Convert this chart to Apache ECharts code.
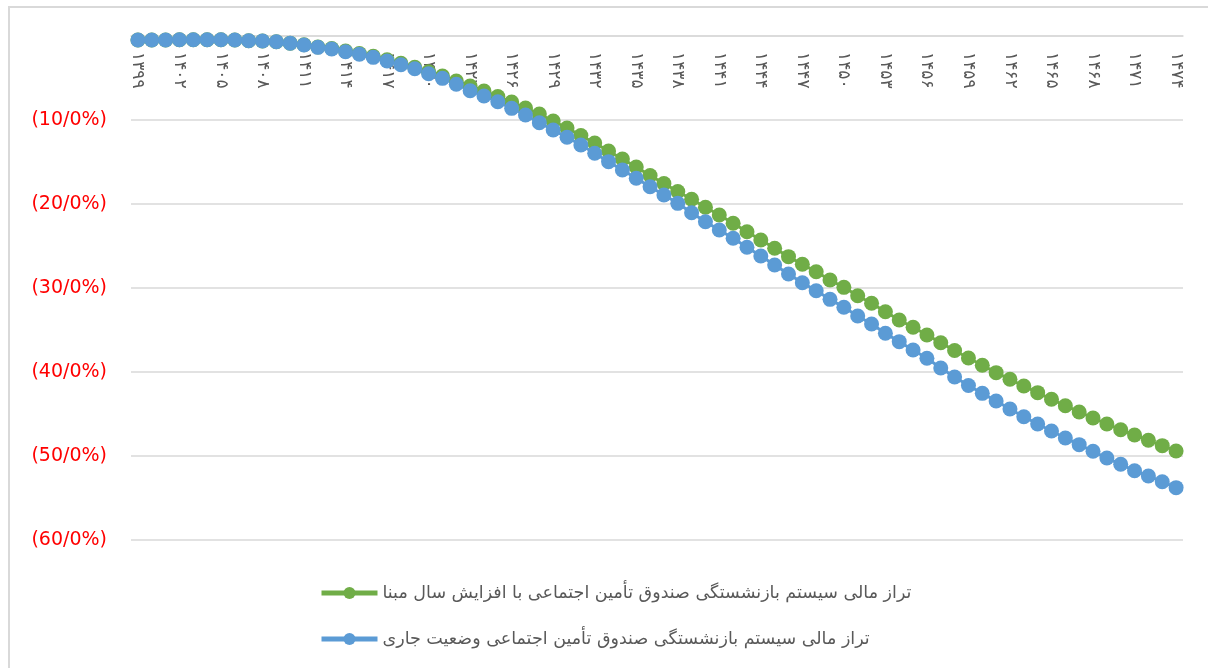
<!DOCTYPE html>
<html>
<head>
<meta charset="utf-8">
<script src="https://cdn.jsdelivr.net/npm/echarts@6/dist/echarts.min.js"></script>
<style>
  html, body { margin: 0; padding: 0; background: #fff; }
  #chart { width: 1208px; height: 668px; }
</style>
</head>
<body>
<div id="chart"></div>
<script>
// years 1399..1474, shown with Persian digits
var firstYear = 1399;
var lastYear = 1474;
var persianDigits = ['۰','۱','۲','۳','۴','۵','۶','۷','۸','۹'];

var yTicks = [0, -10, -20, -30, -40, -50, -60];

var seriesNames = [
  'تراز مالی سیستم بازنشستگی صندوق تأمین اجتماعی با افزایش سال مبنا',
  'تراز مالی سیستم بازنشستگی صندوق تأمین اجتماعی وضعیت جاری'
];

// percent values
var raisedBaseYear = [
  -0.48, -0.48, -0.48, -0.44, -0.44, -0.44, -0.44, -0.48, -0.56, -0.60,
  -0.68, -0.85, -1.04, -1.31, -1.49, -1.79, -2.08, -2.42, -2.82, -3.25,
  -3.73, -4.25, -4.76, -5.36, -5.95, -6.55, -7.20, -7.86, -8.57, -9.29,
  -10.12, -10.95, -11.85, -12.74, -13.69, -14.64, -15.60, -16.61, -17.56, -18.51,
  -19.44, -20.39, -21.31, -22.30, -23.30, -24.29, -25.27, -26.27, -27.18, -28.06,
  -29.05, -29.92, -30.92, -31.82, -32.82, -33.81, -34.68, -35.60, -36.51, -37.44,
  -38.33, -39.20, -40.08, -40.87, -41.67, -42.46, -43.25, -44.01, -44.76, -45.48,
  -46.19, -46.87, -47.50, -48.13, -48.77, -49.40
];

var currentState = [
  -0.48, -0.48, -0.48, -0.44, -0.44, -0.44, -0.44, -0.48, -0.56, -0.60,
  -0.68, -0.87, -1.07, -1.35, -1.55, -1.87, -2.18, -2.54, -2.98, -3.42,
  -3.90, -4.49, -5.04, -5.75, -6.51, -7.14, -7.82, -8.61, -9.40, -10.32,
  -11.19, -12.06, -12.98, -13.96, -14.96, -15.95, -16.94, -17.94, -18.93, -19.92,
  -21.04, -22.11, -23.10, -24.08, -25.15, -26.19, -27.26, -28.33, -29.37, -30.32,
  -31.35, -32.30, -33.33, -34.29, -35.39, -36.39, -37.38, -38.37, -39.52, -40.60,
  -41.61, -42.54, -43.45, -44.40, -45.32, -46.19, -47.02, -47.86, -48.65, -49.44,
  -50.24, -50.99, -51.75, -52.38, -53.06, -53.77
];

function toPersian(n) {
  return String(n).split('').map(function (d) { return persianDigits[+d]; }).join('');
}

var years = [];
for (var y = firstYear; y <= lastYear; y++) {
  years.push(toPersian(y));
}

var chart = echarts.init(document.getElementById('chart'));

var option = {
  animation: false,
  backgroundColor: '#fff',
  graphic: [{
    type: 'rect',
    shape: { x: 9, y: 7, width: 1300, height: 700 },
    style: { fill: 'none', stroke: '#d9d9d9', lineWidth: 2 },
    silent: true
  }],
  grid: {
    left: 131,
    right: 25,
    top: 36,
    bottom: 128
  },
  legend: {
    orient: 'vertical',
    left: 319,
    top: 584,
    padding: 0,
    itemGap: 28,
    itemWidth: 56,
    itemHeight: 15,
    align: 'left',
    data: seriesNames,
    lineStyle: { width: 5 },
    textStyle: {
      fontFamily: 'DejaVu Sans',
      fontSize: 17.5,
      color: '#595959'
    }
  },
  xAxis: {
    type: 'category',
    position: 'top',
    data: years,
    boundaryGap: true,
    axisLine: { onZero: false, lineStyle: { color: '#d9d9d9', width: 1.5 } },
    axisTick: { show: false },
    axisLabel: {
      inside: true,
      interval: 2,
      rotate: 90,
      margin: 16,
      color: '#595959',
      fontFamily: 'DejaVu Sans',
      fontSize: 17
    }
  },
  yAxis: {
    type: 'value',
    min: yTicks[yTicks.length - 1],
    max: yTicks[0],
    interval: 10,
    axisLine: { show: false },
    axisTick: { show: false },
    splitLine: { lineStyle: { color: '#d9d9d9', width: 1.5 } },
    axisLabel: {
      margin: 24,
      color: '#ff0000',
      fontFamily: 'DejaVu Sans',
      fontSize: 19,
      formatter: function (v) {
        return v === 0 ? '' : '(' + Math.abs(v) + '/0%)';
      }
    }
  },
  series: [
    {
      name: seriesNames[0],
      type: 'line',
      data: raisedBaseYear,
      color: '#70ad47',
      symbol: 'circle',
      symbolSize: 15,
      showAllSymbol: true,
      lineStyle: { width: 3 }
    },
    {
      name: seriesNames[1],
      type: 'line',
      data: currentState,
      color: '#5b9bd5',
      symbol: 'circle',
      symbolSize: 15,
      showAllSymbol: true,
      lineStyle: { width: 3 }
    }
  ]
};

chart.setOption(option);
</script>
</body>
</html>
